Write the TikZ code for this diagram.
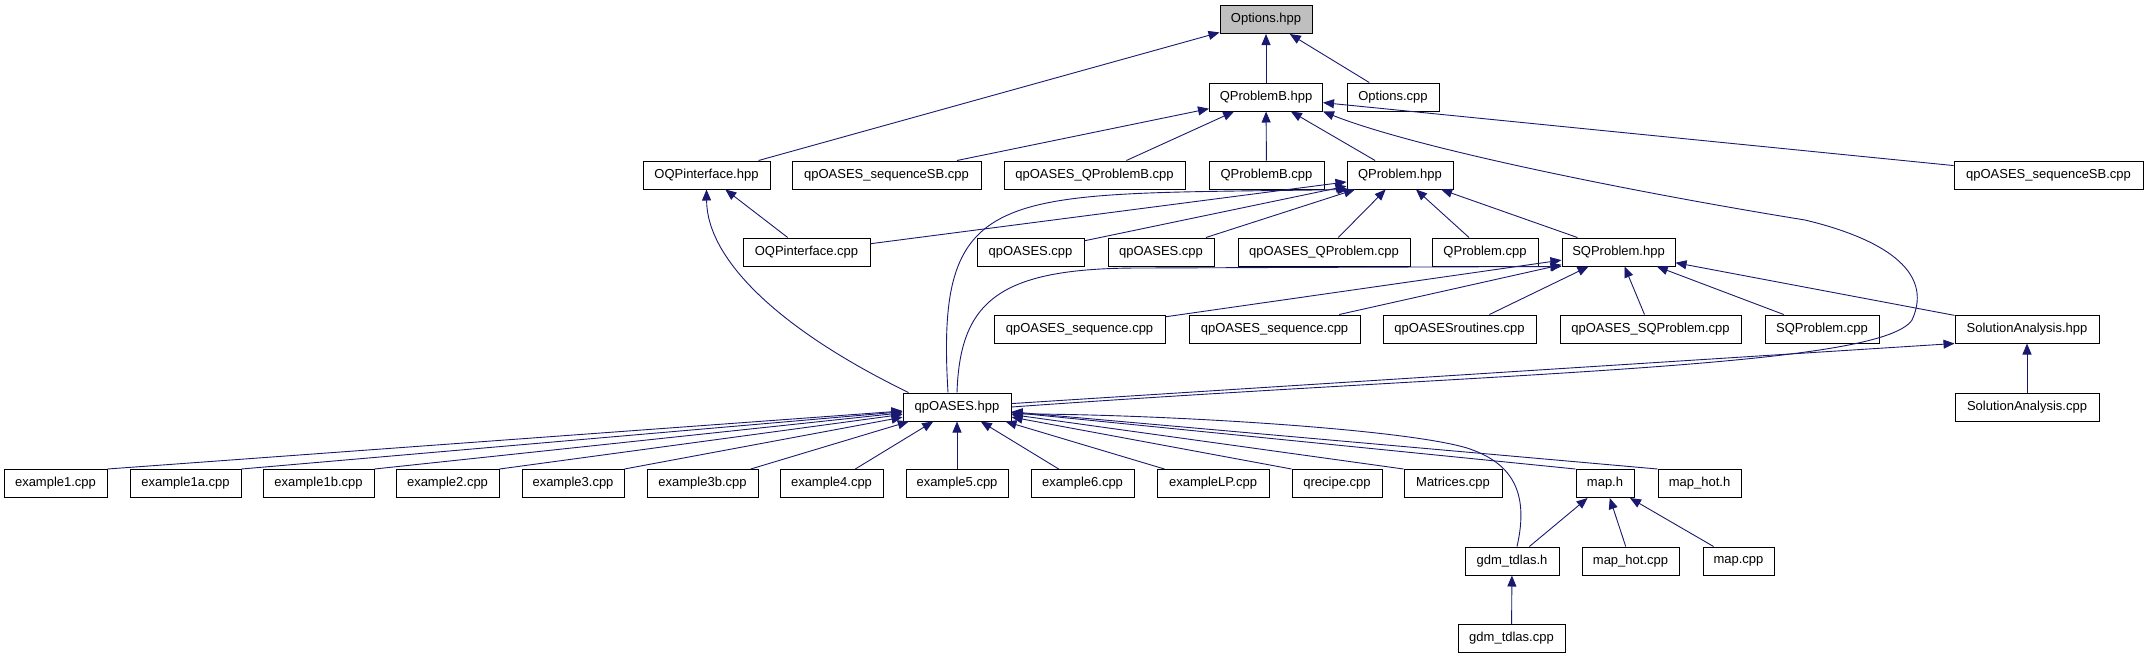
\documentclass[tikz,border=0pt]{standalone}
\usepackage{fontspec}
\setmainfont{Liberation Sans}
\usepackage{tikz}
\usetikzlibrary{arrows.meta, positioning}
\definecolor{edgenavy}{HTML}{191970}
\definecolor{rootgray}{HTML}{BFBFBF}

\begin{document}
\begin{tikzpicture}[x=1pt, y=-1pt, >={Triangle[length=11pt, width=9pt]},
    font=\fontsize{13}{15}\selectfont,
    file/.style={draw=black, line width=1pt, minimum height=28pt, inner sep=0pt},
    inc/.style={->, draw=edgenavy, line width=0.9pt}]
    \useasboundingbox (0,0) rectangle (2147,659);

    % Row 1
    \node[file, fill=rootgray, minimum width=92pt] (opt_hpp) at (1266,19.5) {Options.hpp};

    % Row 2
    \node[file, minimum width=113pt] (qpb_hpp) at (1266,97) {QProblemB.hpp};
    \node[file, minimum width=92pt] (opt_cpp) at (1393,97) {Options.cpp};

    % Row 3
    \node[file, minimum width=127pt] (oqp_hpp) at (706.5,175) {OQPinterface.hpp};
    \node[file, minimum width=189pt] (seqsb_a) at (886.5,175) {qpOASES\_sequenceSB.cpp};
    \node[file, minimum width=181pt] (qpb_test) at (1094.5,175) {qpOASES\_QProblemB.cpp};
    \node[file, minimum width=115pt] (qpb_cpp) at (1266.5,175) {QProblemB.cpp};
    \node[file, minimum width=106pt] (qp_hpp) at (1400,175) {QProblem.hpp};
    \node[file, minimum width=189pt] (seqsb_b) at (2048.5,175) {qpOASES\_sequenceSB.cpp};

    % Row 4
    \node[file, minimum width=127pt] (oqp_cpp) at (806.5,252) {OQPinterface.cpp};
    \node[file, minimum width=107pt] (qpoases_a) at (1030.5,252) {qpOASES.cpp};
    \node[file, minimum width=106pt] (qpoases_b) at (1161,252) {qpOASES.cpp};
    \node[file, minimum width=172pt] (qp_test) at (1324,252) {qpOASES\_QProblem.cpp};
    \node[file, minimum width=106pt] (qp_cpp) at (1485,252) {QProblem.cpp};
    \node[file, minimum width=113pt] (sqp_hpp) at (1618.5,252) {SQProblem.hpp};

    % Row 5
    \node[file, minimum width=171pt] (seq_a) at (1079.5,329) {qpOASES\_sequence.cpp};
    \node[file, minimum width=171pt] (seq_b) at (1274.5,329) {qpOASES\_sequence.cpp};
    \node[file, minimum width=153pt] (routines) at (1459.5,329) {qpOASESroutines.cpp};
    \node[file, minimum width=181pt] (sqp_test) at (1650.5,329) {qpOASES\_SQProblem.cpp};
    \node[file, minimum width=114pt] (sqp_cpp) at (1822,329) {SQProblem.cpp};
    \node[file, minimum width=144pt] (sa_hpp) at (2027,329) {SolutionAnalysis.hpp};

    % Row 6
    \node[file, minimum width=108pt] (qpoases_hpp) at (957,407) {qpOASES.hpp};
    \node[file, minimum width=144pt] (sa_cpp) at (2027,407) {SolutionAnalysis.cpp};

    % Row 7: examples and helpers
    \node[file, minimum width=103pt] (ex1) at (55.5,483.5) {example1.cpp};
    \node[file, minimum width=111pt] (ex1a) at (185.5,483.5) {example1a.cpp};
    \node[file, minimum width=111pt] (ex1b) at (318.5,483.5) {example1b.cpp};
    \node[file, minimum width=103pt] (ex2) at (447.5,483.5) {example2.cpp};
    \node[file, minimum width=102pt] (ex3) at (573,483.5) {example3.cpp};
    \node[file, minimum width=111pt] (ex3b) at (702.5,483.5) {example3b.cpp};
    \node[file, minimum width=103pt] (ex4) at (831.5,483.5) {example4.cpp};
    \node[file, minimum width=102pt] (ex5) at (957,483.5) {example5.cpp};
    \node[file, minimum width=103pt] (ex6) at (1082.5,483.5) {example6.cpp};
    \node[file, minimum width=112pt] (exlp) at (1213,483.5) {exampleLP.cpp};
    \node[file, minimum width=90pt] (qrecipe) at (1337,483.5) {qrecipe.cpp};
    \node[file, minimum width=98pt] (matrices) at (1453,483.5) {Matrices.cpp};
    \node[file, minimum width=58pt] (map_h) at (1605,483.5) {map.h};
    \node[file, minimum width=83pt] (maphot_h) at (1699.5,483.5) {map\_hot.h};

    % Row 8
    \node[file, minimum width=94pt] (gdm_h) at (1512,561) {gdm\_tdlas.h};
    \node[file, minimum width=97pt] (maphot_cpp) at (1630.5,561) {map\_hot.cpp};
    \node[file, minimum width=71pt] (map_cpp) at (1738.5,561) {map.cpp};

    % Row 9
    \node[file, minimum width=107pt] (gdm_cpp) at (1511.5,638.5) {gdm\_tdlas.cpp};

    % Edges into Options.hpp
    \draw[inc] (oqp_hpp) -- (opt_hpp);
    \draw[inc] (qpb_hpp) -- (opt_hpp);
    \draw[inc] (opt_cpp) -- (opt_hpp);

    % Edges into QProblemB.hpp
    \draw[inc] (seqsb_a) -- (qpb_hpp);
    \draw[inc] (qpb_test) -- (qpb_hpp);
    \draw[inc] (qpb_cpp) -- (qpb_hpp);
    \draw[inc] (qp_hpp) -- (qpb_hpp);
    \draw[inc] (seqsb_b) -- (qpb_hpp);
    \draw[inc] (qpoases_hpp.east) .. controls (1500,372) and (1880,368) .. (1912,320)
        .. controls (1935,270) and (1880,238) .. (1805,220)
        .. controls (1650,195) and (1420,150) .. (qpb_hpp.south east);

    % Edges into OQPinterface.hpp
    \draw[inc] (oqp_cpp) -- (oqp_hpp);
    \draw[inc] ([xshift=6pt]qpoases_hpp.north west) .. controls (780,330) and (707,260) .. (oqp_hpp.south);

    % Edges into QProblem.hpp
    \draw[inc] (oqp_cpp) -- (qp_hpp);
    \draw[inc] (qpoases_a) -- (qp_hpp);
    \draw[inc] (qpoases_b) -- (qp_hpp);
    \draw[inc] (qp_test) -- (qp_hpp);
    \draw[inc] (qp_cpp) -- (qp_hpp);
    \draw[inc] (sqp_hpp) -- (qp_hpp);
    \draw[inc] ([xshift=-9pt]qpoases_hpp.north) .. controls (935,180) and (1000,195) .. ([xshift=2pt]qp_hpp.south west);

    % Edges into SQProblem.hpp
    \draw[inc] (seq_a) -- (sqp_hpp);
    \draw[inc] (seq_b) -- (sqp_hpp);
    \draw[inc] (routines) -- (sqp_hpp);
    \draw[inc] (sqp_test) -- (sqp_hpp);
    \draw[inc] (sqp_cpp) -- (sqp_hpp);
    \draw[inc] (sa_hpp) -- (sqp_hpp);
    \draw[inc] (qpoases_hpp.north) .. controls (960,300) and (1000,268) .. (1140,268) -- (sqp_hpp.south west);

    % Edges into SolutionAnalysis.hpp
    \draw[inc] (qpoases_hpp) -- (sa_hpp.south west);
    \draw[inc] (sa_cpp) -- (sa_hpp);

    % Edges into qpOASES.hpp
    \draw[inc] (ex1.north east) -- (qpoases_hpp);
    \draw[inc] (ex1a.north east) -- (qpoases_hpp);
    \draw[inc] (ex1b.north east) -- (qpoases_hpp);
    \draw[inc] (ex2.north east) -- (qpoases_hpp);
    \draw[inc] (ex3.north east) -- (qpoases_hpp);
    \draw[inc] (ex3b) -- (qpoases_hpp);
    \draw[inc] (ex4) -- (qpoases_hpp);
    \draw[inc] (ex5) -- (qpoases_hpp);
    \draw[inc] (ex6) -- (qpoases_hpp);
    \draw[inc] (exlp) -- (qpoases_hpp);
    \draw[inc] (qrecipe.north west) -- (qpoases_hpp);
    \draw[inc] (matrices.north west) -- (qpoases_hpp);
    \draw[inc] (map_h.north west) -- (qpoases_hpp);
    \draw[inc] (maphot_h.north west) -- (qpoases_hpp);
    \draw[inc] ([xshift=5pt]gdm_h.north) .. controls (1530,490) and (1510,462) .. (1467,448)
        .. controls (1400,428) and (1150,414) .. ([yshift=-7pt]qpoases_hpp.east);

    % Edges into map.h and gdm_tdlas.h
    \draw[inc] (gdm_h) -- (map_h);
    \draw[inc] (maphot_cpp) -- (map_h);
    \draw[inc] (map_cpp) -- (map_h);
    \draw[inc] (gdm_cpp) -- (gdm_h);
\end{tikzpicture}
\end{document}
